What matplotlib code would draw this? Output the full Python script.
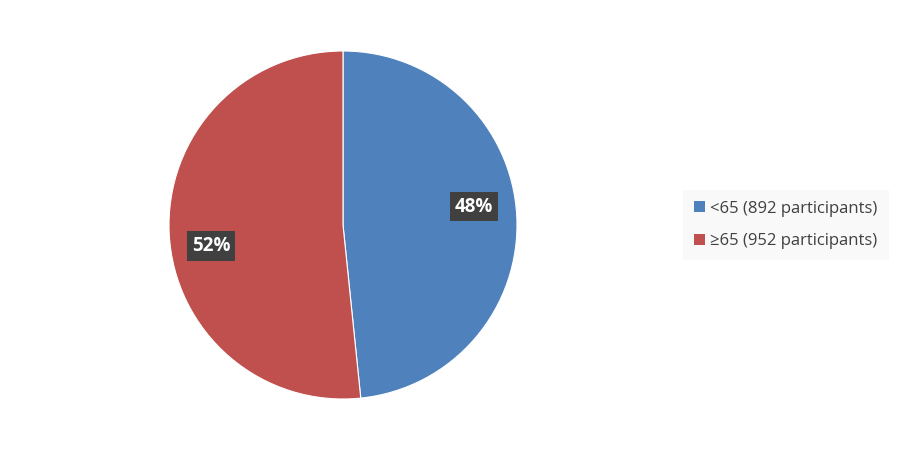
import matplotlib.pyplot as plt
from matplotlib.patches import Patch

# data
labels = ['<65 (892 participants)', '≥65 (952 participants)']
counts = [892, 952]
colors = ['#4F81BD', '#C0504D']

# label spots (fraction of radius), as placed in the original
label_xy = [(0.753, 0.105), (-0.759, -0.12)]

plt.rcParams['font.family'] = ['Open Sans', 'DejaVu Sans']

fig = plt.figure(figsize=(9, 4.5), dpi=100)
ax = fig.add_axes([169 / 900, 51 / 450, 348 / 900, 348 / 450])

wedges, texts, autotexts = ax.pie(
    counts, colors=colors, startangle=90, counterclock=False,
    autopct=lambda p: '%d%%' % round(p), pctdistance=0.76,
    wedgeprops=dict(edgecolor='white', linewidth=0.8))

for t, xy in zip(autotexts, label_xy):
    t.set_position(xy)
    t.set_color('white')
    t.set_fontsize(13.5)
    t.set_fontweight('bold')
    t.set_bbox(dict(boxstyle='square,pad=0.25', facecolor='#404040', edgecolor='none'))

ax.set_xlim(-1, 1)
ax.set_ylim(-1, 1)
ax.set_aspect('equal')

handles = [Patch(facecolor=c, edgecolor='none') for c in colors]
leg = fig.legend(handles, labels, loc='center left', bbox_to_anchor=(688 / 900, 1 - 225 / 450),
                 frameon=True, fontsize=12, handlelength=0.65, handleheight=0.65,
                 handletextpad=0.35, labelspacing=1.0, borderpad=0.35, borderaxespad=0,
                 labelcolor='#404040')
leg.get_frame().set_facecolor('#F8F8F8')
leg.get_frame().set_edgecolor('none')
leg.get_frame().set_boxstyle('square')

fig.savefig('out.png', dpi=100)
